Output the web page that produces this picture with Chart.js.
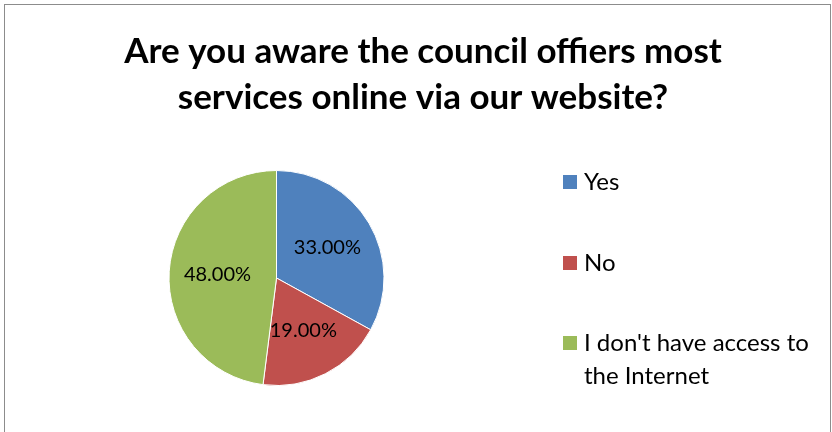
<!DOCTYPE html>
<html>
<head>
<meta charset="utf-8">
<script src="https://cdn.jsdelivr.net/npm/chart.js@4.4.0/dist/chart.umd.min.js"></script>
<style>
    html, body { margin: 0; padding: 0; background: #fff; overflow: hidden; }
    #frame { position: absolute; left: 4px; top: 4px; width: 825px; height: 440px; border: 1px solid #8c8c8c; }
    #wrap { position: absolute; left: 0; top: 0; width: 832px; height: 432px; }
</style>
</head>
<body>
<div id="frame"></div>
<div id="wrap"><canvas id="pie-chart" width="832" height="432"></canvas></div>
<script>
    // Chart data
    var titleLines = ['Are you aware the council offiers most', 'services online via our website?'];
    var categories = ['Yes', 'No', "I don't have access to the Internet"];
    var legendLines = [['Yes'], ['No'], ["I don't have access to", 'the Internet']];
    var percentValues = [33, 19, 48];
    var sliceColors = ['#4f81bd', '#c0504d', '#9bbb59'];

    // Two-line bold title (drawn here so it is not squeezed by the pie padding)
    var chartTitle = {
        id: 'chartTitle',
        afterDraw: function(chart) {
            var ctx = chart.ctx;
            ctx.save();
            ctx.font = 'bold 35px Lato';
            ctx.fillStyle = '#000';
            ctx.textAlign = 'center';
            ctx.textBaseline = 'middle';
            titleLines.forEach(function(t, i) {
                ctx.fillText(t, 423, 52 + i * 46);
            });
            ctx.restore();
        }
    };

    // Percent labels drawn inside each slice
    var sliceLabels = {
        id: 'sliceLabels',
        afterDatasetsDraw: function(chart) {
            var ctx = chart.ctx;
            var meta = chart.getDatasetMeta(0);
            ctx.save();
            ctx.font = '20px Lato';
            ctx.fillStyle = '#000';
            ctx.textAlign = 'center';
            ctx.textBaseline = 'middle';
            meta.data.forEach(function(arc, i) {
                var p = arc.getProps(['x', 'y', 'startAngle', 'endAngle', 'outerRadius'], true);
                var mid = (p.startAngle + p.endAngle) / 2;
                var r = p.outerRadius * 0.55;
                ctx.fillText(percentValues[i].toFixed(2) + '%', p.x + Math.cos(mid) * r, p.y + Math.sin(mid) * r);
            });
            ctx.restore();
        }
    };

    // Legend on the right, spaced like the original
    var sideLegend = {
        id: 'sideLegend',
        afterDraw: function(chart) {
            var ctx = chart.ctx;
            var rows = [182, 263, 343];
            ctx.save();
            ctx.font = '24px Lato';
            ctx.textBaseline = 'middle';
            legendLines.forEach(function(lines, i) {
                ctx.fillStyle = sliceColors[i];
                ctx.fillRect(563, rows[i] - 7, 14, 14);
                ctx.fillStyle = '#000';
                lines.forEach(function(t, j) {
                    ctx.fillText(t, 584, rows[i] + j * 33);
                });
            });
            ctx.restore();
        }
    };

    var ctx = document.getElementById('pie-chart');
    var pieChart = new Chart(ctx, {
        type: 'pie',
        data: {
            labels: categories,
            datasets: [{
                data: percentValues,
                backgroundColor: sliceColors,
                borderColor: '#ffffff',
                borderWidth: 1
            }]
        },
        options: {
            responsive: false,
            animation: false,
            layout: {
                padding: { left: 168, right: 447, top: 170, bottom: 46 }
            },
            plugins: {
                legend: { display: false },
                tooltip: { enabled: false },
                title: { display: false }
            }
        },
        plugins: [chartTitle, sliceLabels, sideLegend]
    });
</script>
</body>
</html>
